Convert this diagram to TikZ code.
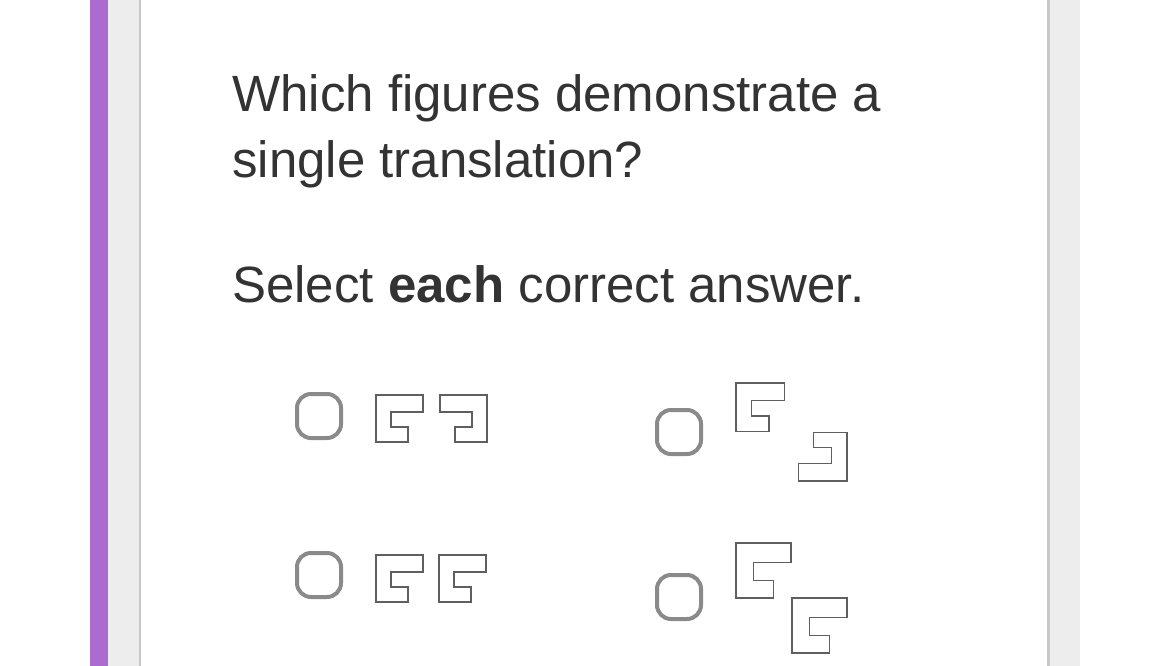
\documentclass[tikz,border=0pt]{standalone}
\usepackage{fontspec}
\setmainfont{Liberation Sans}
\usetikzlibrary{positioning}
\definecolor{barpurple}{RGB}{170,108,207}
\definecolor{sidegray}{RGB}{237,237,237}
\definecolor{edgegray}{RGB}{200,200,200}
\definecolor{textgray}{RGB}{51,51,51}
\definecolor{boxgray}{RGB}{138,138,138}
\definecolor{figgray}{RGB}{95,95,95}

\begin{document}
\begin{tikzpicture}
      [
        x=1pt, y=-1pt,
        qtext/.style = {font=\fontsize{51}{60}\selectfont, text=textgray, inner sep=0pt, anchor=base west},
        checkbox/.style = {draw=boxgray, line width=4pt, rounded corners=14pt, minimum size=44pt, inner sep=0pt},
        figline/.style = {draw=figgray, line width=1.1pt},
        lshape/.pic = {
            \draw[figline] (0,0) -- (47,0) -- (47,17) -- (15,17) -- (15,32) -- (32,32) -- (32,47) -- (0,47) -- cycle;
          }
      ]

      \useasboundingbox (0,0) rectangle (1170,666);

      % page background
      \fill[barpurple] (90,0) rectangle (108,666);
      \fill[sidegray] (108,0) rectangle (139,666);
      \fill[edgegray] (139,0) rectangle (141,666);
      \fill[edgegray] (1047,0) rectangle (1050,666);
      \fill[sidegray] (1050,0) rectangle (1080,666);

      \node[qtext] (line1) at (232,112) {Which figures demonstrate a};
      \node[qtext] (line2) at (232,178) {single translation?};
      \node[qtext] (line3) at (232,302) {Select \textbf{each} correct answer.};

      % answer choices
      \node[checkbox] (box1) at (319,416) {};
      \node[checkbox] (box2) at (679,432) {};
      \node[checkbox] (box3) at (319,575) {};
      \node[checkbox] (box4) at (679,597) {};

      \pic at (376,395) {lshape};
      \pic[xscale=-1] at (487,395) {lshape};

      \pic[scale=1.03] at (736,383) {lshape};
      \pic[scale=1.04, rotate=180] at (847,481) {lshape};

      \pic at (376,555) {lshape};
      \pic at (439,555) {lshape};

      \pic[scale=1.17] at (736,543) {lshape};
      \pic[scale=1.17] at (792,598) {lshape};

    \end{tikzpicture}
\end{document}
